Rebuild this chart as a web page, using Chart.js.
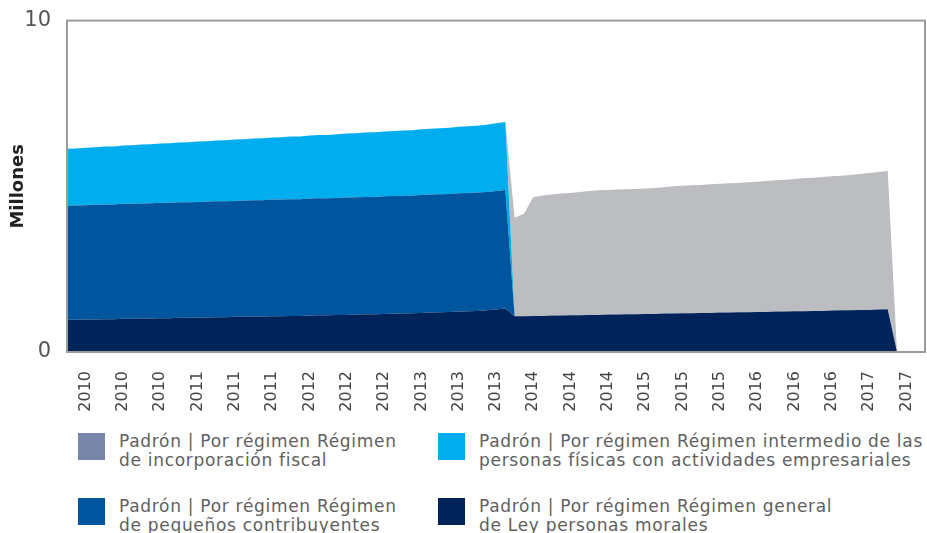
<!DOCTYPE html>
<html>
<head>
<meta charset="utf-8">
<script src="https://cdn.jsdelivr.net/npm/chart.js@4"></script>
<style>
  html, body { margin: 0; padding: 0; background: #fff; overflow: hidden; }
  #wrap { position: relative; width: 927px; height: 533px; }
  #chartBox { position: absolute; left: 0; top: 0; width: 927px; height: 420px; }
  .swatch { position: absolute; width: 27px; height: 27px; }
  .legend-text {
    position: absolute; white-space: nowrap;
    font-family: "DejaVu Sans", sans-serif; font-size: 17px; line-height: 19px;
    letter-spacing: 0.7px; color: #606060;
  }
</style>
</head>
<body>
<div id="wrap">
  <div id="chartBox"><canvas id="padronChart"></canvas></div>
  <div id="padronLegend"></div>
</div>
<script>
// monthly data, Jan 2010 .. Sep 2017 (millones de contribuyentes)
const years = [2010, 2011, 2012, 2013, 2014, 2015, 2016, 2017];
const monthsInLastYear = 9;

const generalLey = [
  0.97, 0.97, 0.98, 0.98, 0.99, 0.99, 1.00, 1.00, 1.01, 1.01, 1.02, 1.02,
  1.03, 1.03, 1.04, 1.04, 1.05, 1.05, 1.06, 1.06, 1.07, 1.07, 1.08, 1.08,
  1.09, 1.09, 1.10, 1.11, 1.11, 1.12, 1.12, 1.13, 1.14, 1.14, 1.15, 1.16,
  1.16, 1.17, 1.18, 1.19, 1.20, 1.21, 1.22, 1.23, 1.24, 1.26, 1.28, 1.31,
  1.08, 1.08, 1.09, 1.09, 1.10, 1.10, 1.11, 1.11, 1.12, 1.12, 1.13, 1.13,
  1.14, 1.14, 1.15, 1.15, 1.16, 1.16, 1.17, 1.17, 1.18, 1.18, 1.19, 1.19,
  1.20, 1.20, 1.21, 1.21, 1.22, 1.22, 1.23, 1.23, 1.24, 1.24, 1.25, 1.26,
  1.26, 1.27, 1.27, 1.28, 1.29, 0, 0, 0, 0
];

const pequenos = [
  3.44, 3.45, 3.45, 3.46, 3.46, 3.46, 3.47, 3.47, 3.47, 3.48, 3.48, 3.48,
  3.49, 3.49, 3.49, 3.50, 3.50, 3.50, 3.50, 3.51, 3.51, 3.51, 3.52, 3.52,
  3.52, 3.52, 3.53, 3.53, 3.53, 3.53, 3.54, 3.54, 3.54, 3.54, 3.55, 3.55,
  3.55, 3.55, 3.56, 3.56, 3.56, 3.56, 3.57, 3.57, 3.57, 3.57, 3.58, 3.58,
  0, 0, 0, 0, 0, 0, 0, 0, 0, 0, 0, 0,
  0, 0, 0, 0, 0, 0, 0, 0, 0, 0, 0, 0,
  0, 0, 0, 0, 0, 0, 0, 0, 0, 0, 0, 0,
  0, 0, 0, 0, 0, 0, 0, 0, 0
];

const intermedio = [
  1.72, 1.72, 1.73, 1.74, 1.75, 1.75, 1.76, 1.77, 1.78, 1.78, 1.79, 1.80,
  1.80, 1.81, 1.82, 1.82, 1.83, 1.84, 1.85, 1.85, 1.86, 1.87, 1.87, 1.88,
  1.89, 1.89, 1.90, 1.91, 1.91, 1.92, 1.93, 1.93, 1.94, 1.95, 1.95, 1.96,
  1.97, 1.97, 1.98, 1.99, 1.99, 2.00, 2.01, 2.01, 2.02, 2.03, 2.04, 2.05,
  0, 0, 0, 0, 0, 0, 0, 0, 0, 0, 0, 0,
  0, 0, 0, 0, 0, 0, 0, 0, 0, 0, 0, 0,
  0, 0, 0, 0, 0, 0, 0, 0, 0, 0, 0, 0,
  0, 0, 0, 0, 0, 0, 0, 0, 0
];

const incorporacion = [
  0, 0, 0, 0, 0, 0, 0, 0, 0, 0, 0, 0,
  0, 0, 0, 0, 0, 0, 0, 0, 0, 0, 0, 0,
  0, 0, 0, 0, 0, 0, 0, 0, 0, 0, 0, 0,
  0, 0, 0, 0, 0, 0, 0, 0, 0, 0, 0, 0,
  2.97, 3.09, 3.59, 3.63, 3.65, 3.68, 3.69, 3.72, 3.74, 3.76, 3.76, 3.77,
  3.77, 3.78, 3.78, 3.80, 3.81, 3.84, 3.85, 3.86, 3.86, 3.88, 3.89, 3.90,
  3.90, 3.92, 3.93, 3.95, 3.96, 3.98, 3.99, 4.01, 4.02, 4.04, 4.05, 4.06,
  4.08, 4.10, 4.13, 4.15, 4.17, 0, 0, 0, 0
];

const yTicks = [0, 10];

// one category per month, labelled by year
const months = [];
years.forEach((y, i) => {
  const n = i === years.length - 1 ? monthsInLastYear : 12;
  for (let m = 0; m < n; m++) months.push(String(y));
});

const seriesLabels = [
  ['Padrón | Por régimen Régimen', 'de incorporación fiscal'],
  ['Padrón | Por régimen Régimen intermedio de las', 'personas físicas con actividades empresariales'],
  ['Padrón | Por régimen Régimen', 'de pequeños contribuyentes'],
  ['Padrón | Por régimen Régimen general', 'de Ley personas morales']
];
const areaColors = ['#bcbdc0', '#00aeef', '#00559f', '#00235a'];
const legendColors = ['#7886aa', '#00aeef', '#00559f', '#00235a'];

// box round the plot area
const plotBorder = {
  id: 'plotBorder',
  afterDraw(chart) {
    const a = chart.chartArea;
    const ctx = chart.ctx;
    ctx.save();
    ctx.strokeStyle = '#9c9c9c';
    ctx.lineWidth = 2;
    ctx.strokeRect(a.left, a.top, a.right - a.left, a.bottom - a.top);
    ctx.restore();
  }
};

function area(label, data, color, fill) {
  return {
    label: label.join(' '),
    data: data,
    backgroundColor: color,
    borderColor: color,
    borderWidth: 0,
    pointRadius: 0,
    tension: 0,
    fill: fill
  };
}

const ctx = document.getElementById('padronChart').getContext('2d');
new Chart(ctx, {
  type: 'line',
  data: {
    labels: months,
    datasets: [
      area(seriesLabels[3], generalLey, areaColors[3], 'origin'),
      area(seriesLabels[2], pequenos, areaColors[2], '-1'),
      area(seriesLabels[1], intermedio, areaColors[1], '-1'),
      area(seriesLabels[0], incorporacion, areaColors[0], '-1')
    ]
  },
  options: {
    responsive: true,
    maintainAspectRatio: false,
    animation: false,
    layout: { padding: { top: 19, right: 2, left: 0, bottom: 0 } },
    plugins: {
      legend: { display: false },
      tooltip: { enabled: false }
    },
    scales: {
      x: {
        offset: false,
        grid: { display: false },
        border: { display: false },
        afterFit: s => { s.height = 68; s.paddingLeft = 0; s.paddingRight = 0; },
        ticks: {
          autoSkip: false,
          minRotation: 90,
          maxRotation: 90,
          padding: 11,
          color: '#444',
          font: { family: 'DejaVu Sans', size: 16 },
          callback: function (val, index) {
            return index % 4 === 2 ? this.getLabelForValue(val) : null;
          }
        }
      },
      y: {
        stacked: true,
        min: 0,
        max: 10,
        grid: { display: false },
        border: { display: false },
        afterFit: s => { s.width = 67; },
        afterBuildTicks: s => { s.ticks = yTicks.map(v => ({ value: v })); },
        ticks: {
          padding: 8,
          color: '#555',
          font: { family: 'DejaVu Sans', size: 21 }
        },
        title: {
          display: true,
          text: 'Millones',
          color: '#222',
          padding: { top: 8, bottom: 0 },
          font: { family: 'DejaVu Sans', size: 18, weight: 'bold' }
        }
      }
    }
  },
  plugins: [plotBorder]
});

// custom two-column legend
function buildLegend() {
  const box = document.getElementById('padronLegend');
  const cols = [78, 438];
  const rows = [433, 498];
  seriesLabels.forEach((lines, i) => {
    const left = cols[i % 2];
    const top = rows[Math.floor(i / 2)];
    const sw = document.createElement('div');
    sw.className = 'swatch';
    sw.style.left = left + 'px';
    sw.style.top = top + 'px';
    sw.style.background = legendColors[i];
    const tx = document.createElement('div');
    tx.className = 'legend-text';
    tx.style.left = (left + 41) + 'px';
    tx.style.top = (top - 1) + 'px';
    tx.innerHTML = lines.join('<br>');
    box.appendChild(sw);
    box.appendChild(tx);
  });
}
buildLegend();
</script>
</body>
</html>
